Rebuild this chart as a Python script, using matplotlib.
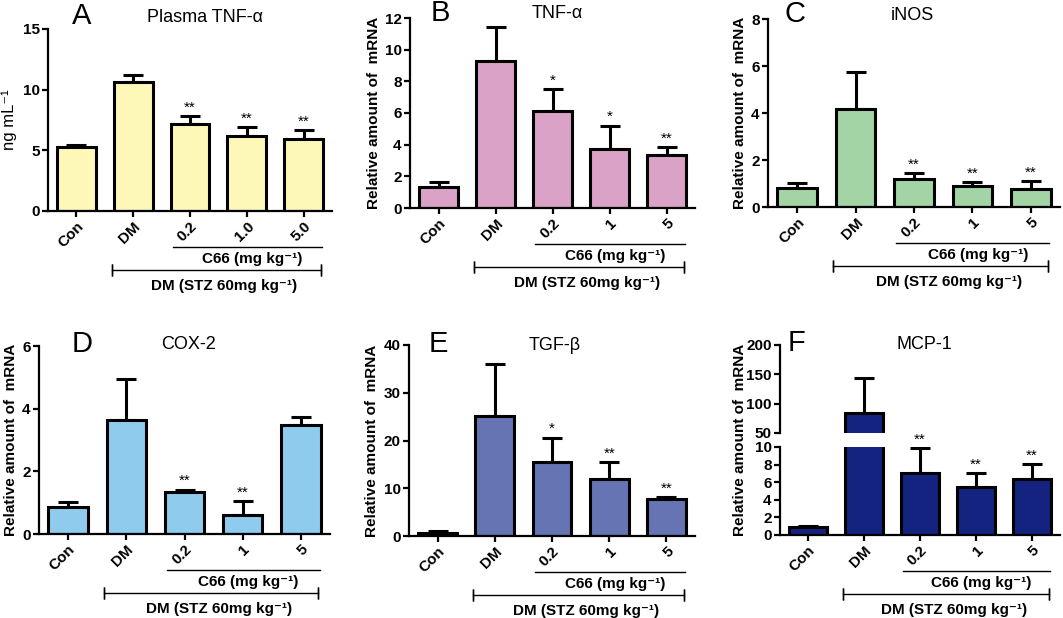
import numpy as np
import matplotlib.pyplot as plt
from matplotlib import transforms

plt.rcParams['font.family'] = ['Liberation Sans', 'DejaVu Sans']

groups = ['Con', 'DM', '0.2', '1', '5']
groups_a = ['Con', 'DM', '0.2', '1.0', '5.0']

# A: plasma TNF-alpha (ng/mL)
tnf_plasma = [5.3, 10.6, 7.15, 6.2, 5.95]
tnf_plasma_err = [0.15, 0.6, 0.65, 0.75, 0.75]
tnf_plasma_sig = ['', '', '**', '**', '**']

# B: TNF-alpha mRNA
tnf = [1.34, 9.26, 6.1, 3.7, 3.34]
tnf_err = [0.28, 2.15, 1.42, 1.5, 0.52]
tnf_sig = ['', '', '*', '*', '**']

# C: iNOS mRNA
inos = [0.8, 4.17, 1.21, 0.91, 0.75]
inos_err = [0.21, 1.57, 0.24, 0.15, 0.34]
inos_sig = ['', '', '**', '**', '**']

# D: COX-2 mRNA
cox2 = [0.85, 3.64, 1.35, 0.61, 3.48]
cox2_err = [0.17, 1.3, 0.07, 0.44, 0.25]
cox2_sig = ['', '', '**', '**', '']

# E: TGF-beta mRNA
tgf = [0.7, 25.2, 15.6, 12.0, 7.8]
tgf_err = [0.4, 10.8, 5.0, 3.5, 0.3]
tgf_sig = ['', '', '*', '**', '**']

# F: MCP-1 mRNA (broken axis)
mcp1 = [0.9, 84.0, 7.03, 5.4, 6.4]
mcp1_err = [0.15, 59.0, 2.87, 1.6, 1.7]
mcp1_sig = ['', '', '**', '**', '**']

W, H = 1063, 618
fig = plt.figure(figsize=(W / 100, H / 100), dpi=100)

FS = 11  # tick / bracket text size


def add_ax(l, t, r, b):
    return fig.add_axes([l / W, 1 - b / H, (r - l) / W, (b - t) / H])


def ftext(x, y, s, **kw):
    fig.text(x / W, 1 - y / H, s, ha='center', va='center', **kw)


def style(ax, ylim, yticks):
    ax.set_xlim(-0.5, 4.5)
    ax.set_ylim(*ylim)
    ax.set_yticks(yticks)
    for s in ['top', 'right']:
        ax.spines[s].set_visible(False)
    for s in ['left', 'bottom']:
        ax.spines[s].set_linewidth(1.6)
    ax.tick_params(axis='both', width=1.6, length=4, labelsize=FS, pad=2)
    for lab in ax.get_yticklabels():
        lab.set_fontweight('bold')


def bars(ax, vals, errs, color, sig=None, clip_top=None):
    x = np.arange(len(vals))
    ax.bar(x, vals, width=0.68, color=color, edgecolor='black',
           linewidth=2.2, zorder=2)
    ax.errorbar(x, vals, yerr=[np.zeros(len(vals)), errs], fmt='none',
                ecolor='black', elinewidth=2.2, capsize=7, capthick=2.2,
                zorder=1)
    if sig:
        for xi, v, e, s in zip(x, vals, errs, sig):
            if s and (clip_top is None or v + e < clip_top):
                ax.annotate(s, (xi, v + e), xytext=(0, 1),
                            textcoords='offset points', ha='center',
                            va='bottom', fontsize=11)


def xlabels(ax, labels):
    ax.set_xticks(np.arange(len(labels)))
    ax.set_xticklabels(labels, rotation=45, ha='right',
                       rotation_mode='anchor', fontweight='bold',
                       fontsize=FS)
    tr = ax.get_xaxis_transform()
    t1 = transforms.offset_copy(tr, fig=fig, y=-36, units='dots')
    t2 = transforms.offset_copy(tr, fig=fig, y=-48, units='dots')
    t3 = transforms.offset_copy(tr, fig=fig, y=-59, units='dots')
    t4 = transforms.offset_copy(tr, fig=fig, y=-75, units='dots')
    ax.plot([1.7, 4.32], [0, 0], color='black', lw=1, transform=t1,
            clip_on=False)
    ax.text(3.1, 0, 'C66 (mg kg⁻¹)', transform=t2, ha='center',
            va='center', fontsize=FS, fontweight='bold')
    ax.plot([0.62, 4.3], [0, 0], color='black', lw=1, transform=t3,
            clip_on=False)
    for xe in [0.62, 4.3]:
        ax.plot([xe, xe], [0, 0], marker='|', ms=8, mew=1, color='black',
                transform=t3, clip_on=False)
    ax.text(2.6, 0, 'DM (STZ 60mg kg⁻¹)', transform=t4, ha='center',
            va='center', fontsize=FS, fontweight='bold')


YLAB = 'Relative amount of  mRNA'

# A
ax = add_ax(48, 29, 332, 211)
bars(ax, tnf_plasma, tnf_plasma_err, '#fdf8b8', tnf_plasma_sig)
style(ax, (0, 15), [0, 5, 10, 15])
xlabels(ax, groups_a)
ax.set_ylabel('ng mL⁻¹', fontsize=12)
ftext(82, 16, 'A', fontsize=21)
ftext(205, 18, 'Plasma TNF-α', fontsize=13)

# B
ax = add_ax(410, 18, 695, 208)
bars(ax, tnf, tnf_err, '#daa2c6', tnf_sig)
style(ax, (0, 12), [0, 2, 4, 6, 8, 10, 12])
xlabels(ax, groups)
ax.set_ylabel(YLAB, fontsize=11, fontweight='bold', labelpad=3)
ftext(440, 13, 'B', fontsize=21)
ftext(557, 14, 'TNF-α', fontsize=13)

# C
ax = add_ax(768, 19, 1060, 207)
bars(ax, inos, inos_err, '#a2d4a6', inos_sig)
style(ax, (0, 8), [0, 2, 4, 6, 8])
xlabels(ax, groups)
ax.set_ylabel(YLAB, fontsize=11, fontweight='bold', labelpad=3)
ftext(795, 14, 'C', fontsize=21)
ftext(912, 15, 'iNOS', fontsize=13)

# D
ax = add_ax(39, 346, 330, 534)
bars(ax, cox2, cox2_err, '#8ecbec', cox2_sig)
style(ax, (0, 6), [0, 2, 4, 6])
xlabels(ax, groups)
ax.set_ylabel(YLAB, fontsize=11, fontweight='bold', labelpad=3)
ftext(82, 344, 'D', fontsize=21)
ftext(188, 344, 'COX-2', fontsize=13)

# E
ax = add_ax(409, 345, 695, 536)
bars(ax, tgf, tgf_err, '#6674b3', tgf_sig)
style(ax, (0, 40), [0, 10, 20, 30, 40])
xlabels(ax, groups)
ax.set_ylabel(YLAB, fontsize=11, fontweight='bold', labelpad=3)
ftext(438, 344, 'E', fontsize=21)
ftext(555, 345, 'TGF-β', fontsize=13)

# F (broken y axis)
ax_up = add_ax(780, 345, 1060, 433)
ax_lo = add_ax(780, 447, 1060, 535)
bars(ax_up, mcp1, mcp1_err, '#142280')
bars(ax_lo, mcp1, mcp1_err, '#142280', mcp1_sig, clip_top=10)
style(ax_up, (50, 200), [50, 100, 150, 200])
style(ax_lo, (0, 10), [0, 2, 4, 6, 8, 10])
ax_up.spines['bottom'].set_visible(False)
ax_up.tick_params(axis='x', bottom=False, labelbottom=False)
xlabels(ax_lo, groups)
ftext(740, 440, YLAB, fontsize=11, fontweight='bold', rotation=90)
ftext(797, 343, 'F', fontsize=21)
ftext(924, 344, 'MCP-1', fontsize=13)

fig.savefig('out.png', dpi=100)
